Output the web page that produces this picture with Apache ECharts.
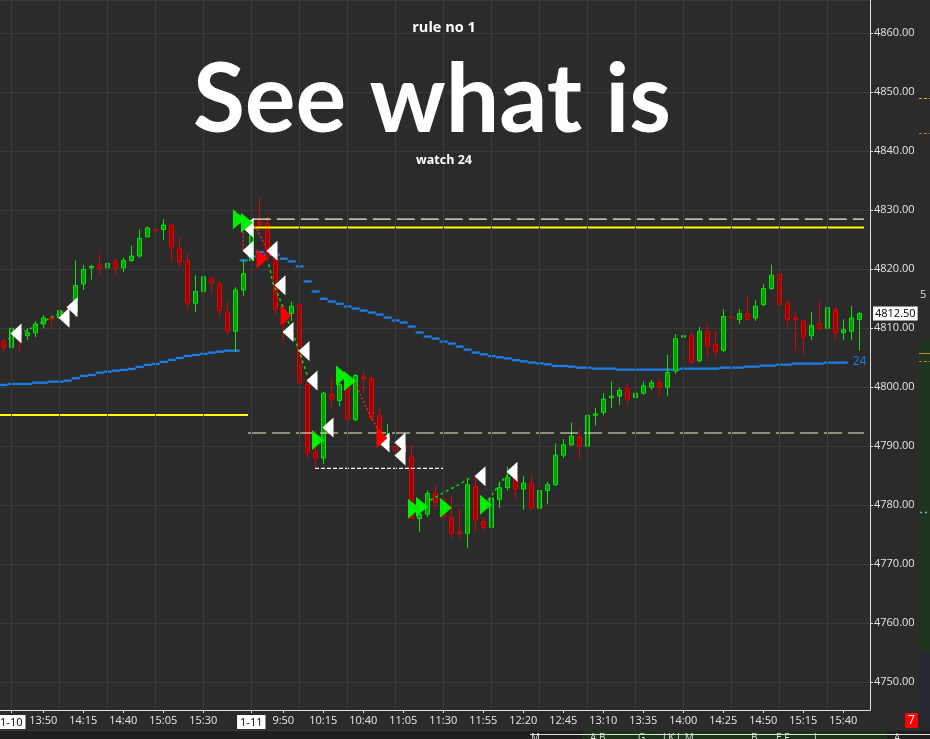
<!DOCTYPE html>
<html><head><meta charset="utf-8">
<script src="https://cdn.jsdelivr.net/npm/echarts@6/dist/echarts.min.js"></script>
<style>html,body{margin:0;padding:0;background:#2b2b2b;}#c{width:930px;height:739px;}</style>
</head><body><div id="c"></div>
<script>
// ---- data (5-minute bars, index 0 = 1-10 13:25, index 31 = 1-11 9:30) ----
const opens  = [4807.75,4806.75,4810.0,4808.75,4809.25,4810.75,4811.75,4811.75,4813.0,4812.75,
  4817.5,4820.25,4820.75,4820.25,4821.25,4820.25,4821.5,4822.25,4825.5,4826.75,
  4826.75,4827.5,4823.5,4821.5,4814.25,4816.25,4818.5,4817.5,4812.75,4809.5,
  4816.5,4821.5,4828.0,4827.75,4822.75,4813.25,4812.5,4814.0,4800.5,4789.0,
  4788.0,4798.75,4797.75,4801.0,4794.5,4801.75,4801.5,4795.25,4791.0,4790.0,
  4790.25,4788.25,4777.75,4778.5,4782.0,4781.0,4778.0,4775.5,4775.25,4783.25,
  4777.25,4776.25,4781.0,4783.0,4785.0,4782.75,4783.75,4779.5,4782.5,4783.5,
  4788.5,4790.25,4791.5,4790.0,4795.25,4795.75,4798.25,4798.5,4799.75,4798.25,
  4799.0,4800.0,4800.75,4800.0,4802.75,4808.5,4808.75,4804.5,4809.5,4807.25,
  4806.25,4812.0,4811.5,4812.5,4811.75,4814.0,4816.75,4819.25,4814.25,4811.75,
  4811.25,4808.75,4810.75,4810.0,4813.25,4809.25,4809.5,4811.5];
const closes = [4806.75,4810.0,4808.5,4809.25,4810.75,4811.75,4811.5,4813.0,4812.75,4817.25,
  4820.0,4820.5,4820.25,4821.0,4820.25,4821.5,4822.25,4825.25,4827.0,4826.5,
  4827.5,4823.75,4821.25,4814.25,4816.25,4818.75,4817.75,4813.0,4809.5,4816.5,
  4819.25,4828.25,4827.5,4822.25,4813.25,4811.0,4813.75,4800.75,4789.0,4788.0,
  4799.0,4798.0,4800.5,4794.5,4802.0,4801.5,4794.75,4791.5,4791.75,4789.25,
  4788.5,4777.75,4778.5,4782.0,4780.5,4778.0,4775.25,4775.25,4783.5,4777.5,
  4776.25,4781.25,4783.0,4784.75,4782.75,4783.75,4779.5,4782.5,4783.5,4788.5,
  4790.25,4791.75,4790.0,4795.25,4795.5,4798.0,4798.5,4799.5,4798.0,4799.0,
  4800.25,4800.75,4800.0,4802.5,4808.25,4808.75,4804.25,4809.5,4807.0,4806.0,
  4812.0,4811.75,4812.5,4811.5,4813.75,4816.75,4819.0,4814.0,4811.5,4811.5,
  4808.5,4810.5,4810.0,4813.5,4809.25,4809.75,4811.75,4812.5];
const lows   = [4806.0,4806.0,4806.0,4808.0,4808.5,4810.0,4810.25,4811.25,4812.25,4812.0,
  4816.5,4818.25,4819.0,4819.5,4819.0,4819.5,4821.25,4822.0,4825.5,4823.25,
  4825.0,4821.25,4820.25,4813.25,4812.75,4814.75,4816.0,4812.0,4809.0,4806.0,
  4815.5,4820.0,4826.5,4821.25,4812.25,4808.0,4811.25,4799.75,4788.0,4786.25,
  4787.0,4796.5,4796.75,4794.5,4794.25,4799.0,4794.5,4790.0,4790.5,4787.5,
  4788.0,4777.75,4775.5,4778.0,4779.5,4777.75,4774.5,4774.5,4772.75,4775.5,
  4775.75,4775.75,4779.5,4782.5,4781.25,4779.25,4779.25,4777.5,4780.25,4783.25,
  4788.0,4790.0,4788.0,4789.25,4793.5,4795.25,4796.5,4797.0,4797.0,4796.75,
  4798.75,4799.5,4798.5,4798.5,4802.25,4808.0,4804.0,4804.25,4805.0,4805.0,
  4806.0,4810.25,4810.75,4811.25,4811.25,4813.75,4816.5,4812.5,4810.25,4806.25,
  4805.5,4808.0,4809.5,4809.5,4808.0,4808.0,4808.0,4806.25];
const highs  = [4808.25,4810.5,4810.25,4810.0,4811.25,4812.25,4812.25,4813.5,4813.5,4821.5,
  4820.75,4820.75,4822.5,4822.25,4821.75,4822.0,4824.0,4826.75,4827.25,4828.0,
  4828.5,4827.5,4825.5,4822.75,4819.0,4820.25,4818.5,4818.0,4814.5,4817.0,
  4821.75,4830.0,4832.25,4829.0,4823.0,4814.0,4814.5,4814.75,4801.5,4792.75,
  4799.25,4801.5,4801.25,4806.5,4802.25,4802.75,4802.0,4796.5,4793.75,4793.25,
  4791.0,4790.25,4781.0,4782.5,4783.5,4781.75,4781.75,4779.5,4784.5,4784.75,
  4778.0,4781.75,4784.0,4786.5,4786.25,4785.0,4785.25,4783.75,4784.0,4790.5,
  4791.25,4794.0,4792.75,4796.5,4796.5,4799.0,4801.0,4800.0,4800.5,4800.25,
  4801.0,4801.25,4801.5,4805.5,4809.0,4812.5,4809.5,4810.25,4810.75,4809.5,
  4813.25,4814.0,4813.25,4815.5,4814.75,4817.5,4820.75,4820.0,4814.75,4813.0,
  4811.5,4812.75,4814.5,4813.75,4813.5,4811.5,4813.75,4812.75];
// session VWAP-like blue steps (null = not drawn)
const vwap = [4800.4,4800.56,4800.56,4800.56,4800.78,4800.78,4800.95,4800.95,4801.12,4801.53,
  4801.92,4802.09,4802.48,4802.65,4802.82,4802.94,4803.11,4803.45,4803.79,4803.96,
  4804.30,4804.64,4804.97,4805.31,4805.48,4805.65,4805.87,4806.04,4806.21,4806.21,
  4821.50,4822.18,4822.92,4822.46,4822.46,4821.79,4821.33,4820.48,4817.94,4816.24,
  4815.0,4814.54,4814.15,4813.69,4813.35,4813.01,4812.67,4812.33,4811.82,4811.32,
  4810.98,4810.30,4809.28,4808.60,4808.26,4807.75,4807.41,4806.90,4806.39,4805.88,
  4805.6,4805.3,4805.1,4804.9,4804.6,4804.4,4804.2,4804.05,4803.9,4803.62,
  4803.62,4803.5,4803.33,4803.33,4803.16,4803.16,4803.16,4802.99,4802.99,4802.99,
  4802.99,4802.99,4802.99,4802.99,4802.99,4803.16,4803.16,4803.16,4803.16,4803.16,
  4803.33,4803.33,4803.33,4803.5,4803.5,4803.67,4803.67,4803.84,4803.84,4804.01,
  4804.01,4804.01,4804.01,4804.18,4804.18,4804.18,null,null];
const vwapLabel = '24';
// x axis tick labels (bar index -> text)
const tickIdx    = [1,5,10,15,20,25,31,35,40,45,50,55,60,65,70,75,80,85,90,95,100,105];
const tickLabels = ['1-10','13:50','14:15','14:40','15:05','15:30','1-11','9:50','10:15','10:40','11:05','11:30',
                    '11:55','12:20','12:45','13:10','13:35','14:00','14:25','14:50','15:15','15:40'];
// half-hour vertical grid lines (bar index)
const gridIdx = [1,7,13,19,25,31,37,43,49,55,61,67,73,79,85,91,97,103];
// signal markers [bar index, price]
const whiteSignals = [[1.59,4809.13],[7.59,4811.77],[8.59,4813.55],[30.59,4827.05],[30.59,4823.14],
  [33.59,4823.14],[34.59,4817.28],[35.59,4809.39],[37.59,4806.16],[38.59,4801.15],[40.59,4793.17],
  [47.59,4790.63],[49.59,4790.63],[49.59,4788.42],[59.59,4784.94],[63.59,4785.70]];
const greenSignals = [[29.46,4828.49],[30.46,4827.9],[39.34,4791.05],[42.34,4802.0],[43.34,4801.07],
  [51.34,4779.42],[52.34,4779.76],[55.34,4779.59],[60.34,4780.10]];
const redSignals = [[32.34,4821.78],[35.34,4812.11],[47.34,4791.39]];
// trade path dotted lines
const greenPaths = [
  [[0.6,4808.2],[3.5,4810.0],[5.5,4811.5],[7.5,4812.8]],
  [[33.2,4820.85],[33.7,4817.7],[34.6,4814.8],[36.5,4808.0],[38.0,4802.1]],
  [[53.34,4780.87],[55.2,4782.23],[56.8,4783.42],[58.3,4784.6]],
  [[60.6,4780.87],[62.1,4783.76],[63.3,4785.63]]
];
const redPaths = [
  [[30.0,4827.05],[30.0,4823.3]],
  [[31.2,4828.0],[32.2,4825.5],[33.1,4822.8]],
  [[43.96,4800.73],[45.2,4797.0],[46.5,4793.6],[47.5,4791.56]]
];
// horizontal levels [startIdx, endIdx, price]
const yellowSolid = [[-0.41,30.6,4795.3],[31.2,107.6,4827.1]];
const paleDashed  = [[31.2,107.6,4828.5],[30.6,107.6,4792.25]];
const whiteDotted = [[38.96,54.96,4786.25]];

// ---- chart ----
const FONT = "'Open Sans', 'Noto Sans', sans-serif";
const candleData = opens.map((o,i)=>[i,o,closes[i],lows[i],highs[i]]);
const vwapData = [];
vwap.forEach((v,i)=>{ if(v!=null) vwapData.push([i,v]); });
const lastVw = vwapData.length-1;
const lastPrice = closes[closes.length-1];

function seg(pts, color, width, type){
  return {type:'line', data:pts, showSymbol:false, symbol:'none', silent:true, z:4,
    lineStyle:{color:color, width:width, type:type}, animation:false};
}
const series = [];
// vertical grid lines
series.push({type:'line', data:[], z:1, silent:true,
  markLine:{silent:true, symbol:['none','none'], label:{show:false},
    lineStyle:{color:'#3a3a3a', width:1, type:'solid'},
    data: gridIdx.map(i=>({xAxis:i}))}});
yellowSolid.forEach(l=>series.push(seg([[l[0],l[2]],[l[1],l[2]]],'#ffff00',2,'solid')));
paleDashed.forEach(l=>series.push(seg([[l[0],l[2]],[l[1],l[2]]],'#f4f4cc',1.2,[18,6])));
whiteDotted.forEach(l=>series.push(seg([[l[0],l[2]],[l[1],l[2]]],'#ffffff',1.2,[4,2])));
series.push({type:'custom', z:3, silent:true, data:vwapData, encode:{x:0,y:1},
  renderItem:function(params, api){
    const i = api.value(0), v = api.value(1);
    const p1 = api.coord([i-0.45, v]), p2 = api.coord([i+0.55, v]);
    const line = {type:'line', shape:{x1:p1[0],y1:p1[1],x2:p2[0],y2:p2[1]},
      style:{stroke:'#1c7fe8', lineWidth:2.3}};
    if(params.dataIndex === lastVw){
      return {type:'group', children:[line, {type:'text', x:p2[0]+5, y:p2[1]-1,
        style:{text:vwapLabel, fill:'#1c7fe8', font:'12px '+FONT, align:'left', verticalAlign:'middle'}}]};
    }
    return line;
  }});
series.push({type:'candlestick', data:candleData, encode:{x:0,y:[1,2,3,4]}, barWidth:4, z:3,
  itemStyle:{color:'#00a000', color0:'#a00000', borderColor:'#10e010', borderColor0:'#e00000', borderWidth:1},
  markLine:{silent:true, symbol:['none','none'], data:[{yAxis:lastPrice}],
    lineStyle:{color:'rgba(0,0,0,0)', width:0},
    label:{show:true, position:'end', distance:3, formatter:()=>lastPrice.toFixed(2),
      backgroundColor:'#ffffff', color:'#000000', padding:[2,2,1,2], fontSize:11, fontFamily:FONT}}});
greenPaths.forEach(p=>series.push(seg(p,'#00e000',1.5,[3,3])));
redPaths.forEach(p=>series.push(seg(p,'#ff2020',1.5,[2,2])));
series.push({type:'scatter', data:whiteSignals, symbol:'triangle', symbolSize:[20,11], symbolRotate:90, z:6,
  itemStyle:{color:'#ffffff', opacity:1}, silent:true});
series.push({type:'scatter', data:greenSignals, symbol:'triangle', symbolSize:[20,12], symbolRotate:-90, z:6,
  itemStyle:{color:'#00ee00', opacity:1}, silent:true});
series.push({type:'scatter', data:redSignals, symbol:'triangle', symbolSize:[20,11], symbolRotate:-90, z:6,
  itemStyle:{color:'#ff0000', opacity:1}, silent:true});

const gfx = [
  {type:'text', x:444, y:28, z:10, style:{text:'rule no 1', fill:'#ffffff', font:'bold 14.5px '+FONT, align:'center', verticalAlign:'middle'}},
  {type:'text', x:432, y:101, z:10, style:{text:'See what is', fill:'#ffffff', font:'bold 95px Lato, '+FONT, align:'center', verticalAlign:'middle'}},
  {type:'text', x:444, y:160, z:10, style:{text:'watch 24', fill:'#ffffff', font:'bold 12.5px '+FONT, align:'center', verticalAlign:'middle'}},
  // neighbouring panel slivers
  {type:'rect', shape:{x:919,y:340,width:11,height:312}, style:{fill:'#1f3520'}},
  {type:'rect', shape:{x:919,y:652,width:11,height:80}, style:{fill:'#262830'}},
  {type:'line', shape:{x1:919,y1:98.5,x2:930,y2:98.5}, style:{stroke:'#d8c030', lineWidth:1, lineDash:[3,2]}},
  {type:'line', shape:{x1:919,y1:133.5,x2:930,y2:133.5}, style:{stroke:'#c8782a', lineWidth:1, lineDash:[3,2]}},
  {type:'line', shape:{x1:919,y1:353.5,x2:930,y2:353.5}, style:{stroke:'#c8882a', lineWidth:1}},
  {type:'line', shape:{x1:919,y1:361.5,x2:930,y2:361.5}, style:{stroke:'#c8782a', lineWidth:1, lineDash:[3,2]}},
  {type:'line', shape:{x1:920,y1:512.5,x2:930,y2:512.5}, style:{stroke:'#5cc8d0', lineWidth:1.5, lineDash:[2,3]}},
  {type:'text', x:920, y:295, style:{text:'5', fill:'#dddddd', font:'11px '+FONT, verticalAlign:'middle'}},
  {type:'rect', shape:{x:0,y:731,width:930,height:8}, style:{fill:'#1f1f1f'}},
  {type:'rect', shape:{x:582,y:731,width:305,height:8}, style:{fill:'#1c331c'}},
  {type:'line', shape:{x1:0,y1:730.5,x2:530,y2:730.5}, style:{stroke:'#3a3a3a', lineWidth:1}},
  {type:'line', shape:{x1:530,y1:734.5,x2:930,y2:734.5}, style:{stroke:'#e0e0e0', lineWidth:1}},
  {type:'text', x:531, y:733, style:{text:'M', fill:'#dddddd', font:'10px '+FONT, verticalAlign:'top'}},
  {type:'text', x:590, y:733, style:{text:'A B', fill:'#dddddd', font:'10px '+FONT, verticalAlign:'top'}},
  {type:'text', x:638, y:733, style:{text:'G', fill:'#dddddd', font:'10px '+FONT, verticalAlign:'top'}},
  {type:'text', x:663, y:733, style:{text:'J K L M', fill:'#dddddd', font:'10px '+FONT, verticalAlign:'top'}},
  {type:'text', x:751, y:733, style:{text:'B', fill:'#dddddd', font:'10px '+FONT, verticalAlign:'top'}},
  {type:'text', x:776, y:733, style:{text:'E F', fill:'#dddddd', font:'10px '+FONT, verticalAlign:'top'}},
  {type:'text', x:814, y:733, style:{text:'J', fill:'#dddddd', font:'10px '+FONT, verticalAlign:'top'}},
  {type:'text', x:894, y:733, style:{text:'A', fill:'#dddddd', font:'10px '+FONT, verticalAlign:'top'}},
  {type:'rect', shape:{x:905,y:713,width:13,height:15}, style:{fill:'#ff0000'}},
  {type:'text', x:911.5, y:721, style:{text:'7', fill:'#ffffff', font:'12px '+FONT, align:'center', verticalAlign:'middle'}}
];

const chart = echarts.init(document.getElementById('c'), null, {renderer:'canvas'});
chart.setOption({
  animation:false,
  backgroundColor:'#2b2b2b',
  grid:{left:0, right:60, top:0, bottom:29, containLabel:false, outerBoundsMode:'none'},
  xAxis:{type:'value', min:-0.41, max:108.34,
    axisLine:{show:true, onZero:false, lineStyle:{color:'#e0e0e0', width:1}},
    axisTick:{show:true, customValues:tickIdx, length:3, lineStyle:{color:'#e0e0e0'}},
    axisLabel:{show:true, customValues:tickIdx, color:'#e8e8e8', fontSize:11, fontFamily:FONT, margin:5,
      formatter:function(v){ const k = tickIdx.indexOf(v); const t = k>=0 ? tickLabels[k] : '';
        return t.indexOf('-')>=0 ? '{d|'+t+'}' : t; },
      rich:{d:{backgroundColor:'#ffffff', color:'#000000', fontSize:11, fontFamily:FONT, padding:[2,3,1,3]}}},
    splitLine:{show:false}},
  yAxis:{type:'value', position:'right', min:4745.3, max:4865.65, splitNumber:12, scale:true,
    axisLine:{show:true, onZero:false, lineStyle:{color:'#e0e0e0', width:1}},
    axisTick:{show:true, length:3, lineStyle:{color:'#e0e0e0'}},
    axisLabel:{color:'#e6e6e6', fontSize:11, fontFamily:FONT, margin:4, showMinLabel:false, showMaxLabel:false,
      formatter:function(v){ return v.toFixed(2); }},
    splitLine:{show:true, lineStyle:{color:'#3a3a3a', width:1}}},
  series:series,
  graphic:gfx
});
</script></body></html>
